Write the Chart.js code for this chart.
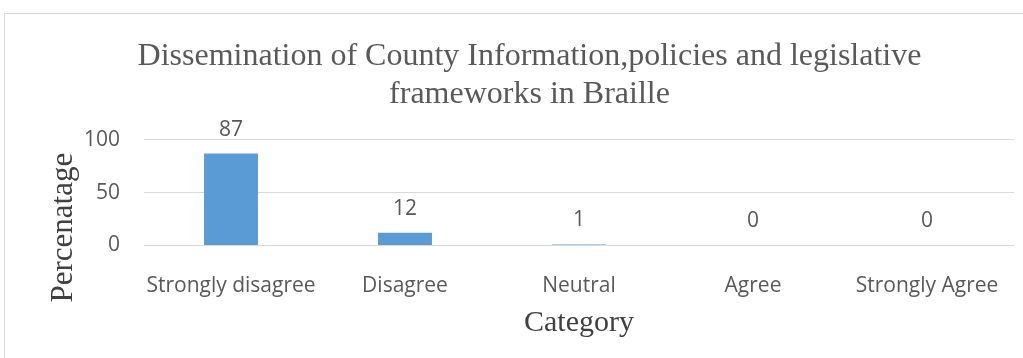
<!DOCTYPE html>
<html>
<head>
<meta charset="utf-8">
<script src="https://cdn.jsdelivr.net/npm/chart.js@4/dist/chart.umd.min.js"></script>
<style>
  html, body { margin: 0; padding: 0; background: #fff; overflow: hidden; }
  #frame { position: absolute; left: 4px; top: 13px; width: 1040px; height: 380px; border: 1px solid #d9d9d9; }
  #myChart { position: absolute; left: 0; top: 0; }
</style>
</head>
<body>
<div id="frame"></div>
<canvas id="myChart" width="1023" height="358"></canvas>
<script>
// dados
var categorias = ['Strongly disagree', 'Disagree', 'Neutral', 'Agree', 'Strongly Agree'];
var valores = [87, 12, 1, 0, 0];
var ticksY = [0, 50, 100];
var titulo = ['Dissemination of County Information,policies and legislative', 'frameworks in Braille'];
var tituloY = 'Percenatage';
var tituloX = 'Category';

var cinza = '#595959';
var fonteNum = 'Open Sans';

// escreve o valor em cima de cada barra
var rotulos = {
    id: 'rotulos',
    afterDatasetsDraw: function (chart) {
        var ctx = chart.ctx;
        var meta = chart.getDatasetMeta(0);
        ctx.save();
        ctx.fillStyle = cinza;
        ctx.font = '21px "' + fonteNum + '"';
        ctx.textAlign = 'center';
        ctx.textBaseline = 'middle';
        meta.data.forEach(function (barra, i) {
            ctx.fillText(String(valores[i]), barra.x, barra.y - 24);
        });
        ctx.restore();
    }
};

// titulo do eixo Y um pouco abaixo do centro, como no original
var tituloEixoY = {
    id: 'tituloEixoY',
    afterDraw: function (chart) {
        var ctx = chart.ctx;
        var area = chart.chartArea;
        ctx.save();
        ctx.translate(64, (area.top + area.bottom) / 2 + 35);
        ctx.rotate(-Math.PI / 2);
        ctx.fillStyle = '#404040';
        ctx.font = '31px "Liberation Serif"';
        ctx.textAlign = 'center';
        ctx.textBaseline = 'middle';
        ctx.fillText(tituloY, 0, 0);
        ctx.restore();
    }
};

var ctx = document.getElementById('myChart');
var meuGrafico = new Chart(ctx, {
    type: 'bar',
    data: {
        labels: categorias,
        datasets: [{
            label: tituloY,
            data: valores,
            backgroundColor: '#5b9bd5',
            borderWidth: 0,
            barPercentage: 0.31,
            categoryPercentage: 1
        }]
    },
    options: {
        responsive: false,
        animation: false,
        layout: { padding: { left: 45, right: 9, top: 38, bottom: 0 } },
        plugins: {
            legend: { display: false },
            tooltip: { enabled: false },
            title: {
                display: true,
                text: titulo,
                color: cinza,
                font: { family: 'Liberation Serif', size: 32, weight: 'normal', lineHeight: 1.17 },
                padding: { top: 0, bottom: 27 }
            }
        },
        scales: {
            x: {
                grid: { display: false },
                border: { display: false },
                ticks: { color: cinza, font: { family: fonteNum, size: 21 }, padding: 20, maxRotation: 0 },
                title: {
                    display: true,
                    text: tituloX,
                    color: '#404040',
                    font: { family: 'Liberation Serif', size: 30 },
                    padding: 17
                },
                afterFit: function (scale) { scale.height = 112.5; }
            },
            y: {
                min: 0,
                max: 100,
                afterBuildTicks: function (scale) {
                    scale.ticks = ticksY.map(function (v) { return { value: v }; });
                },
                grid: { color: '#d9d9d9', drawTicks: false },
                border: { display: false },
                ticks: { color: cinza, font: { family: fonteNum, size: 21 }, padding: 24 },
                afterFit: function (scale) { scale.width = 99; }
            }
        }
    },
    plugins: [rotulos, tituloEixoY]
});
</script>
</body>
</html>
